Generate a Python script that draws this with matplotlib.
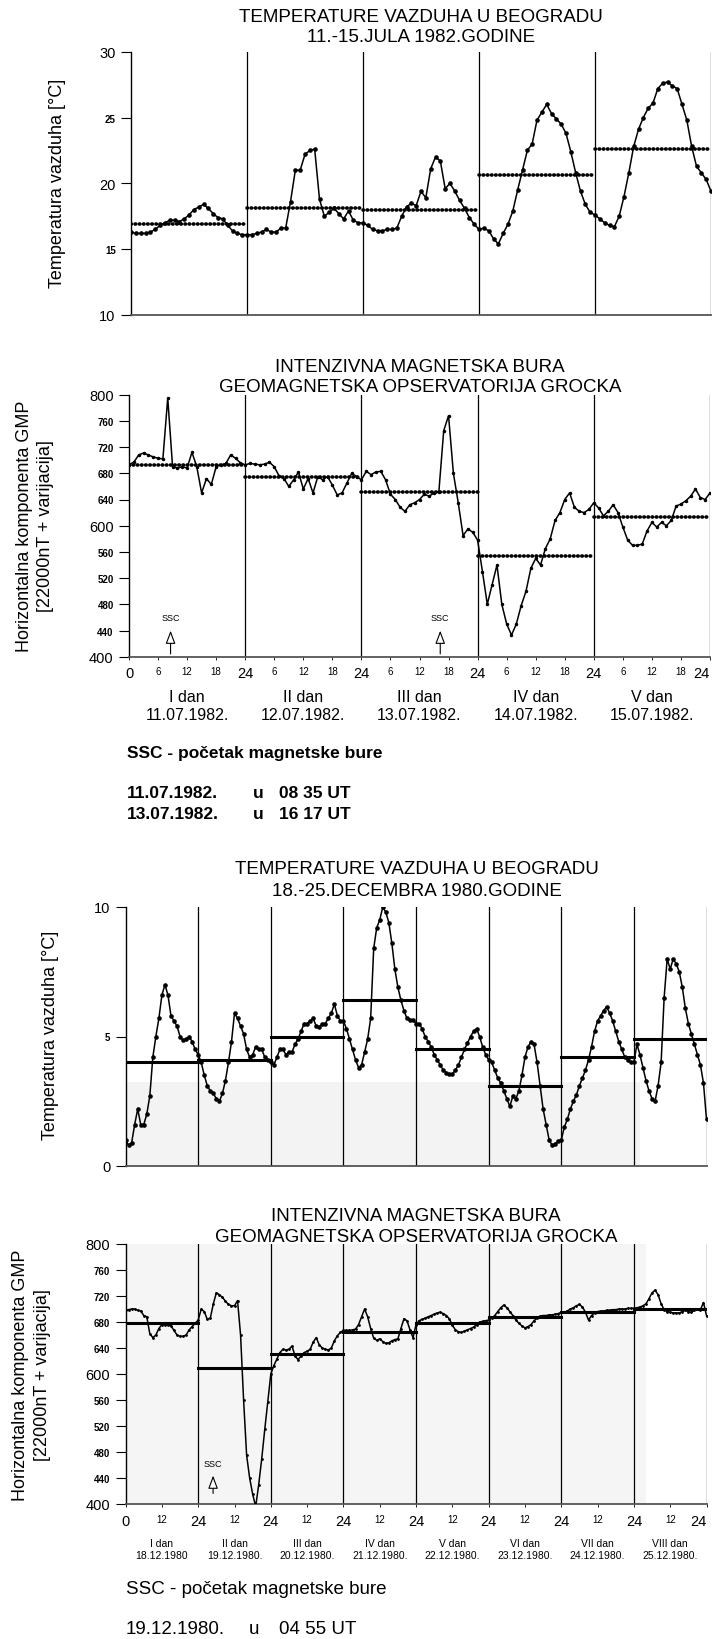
import numpy as np
import matplotlib
matplotlib.use("Agg")
import matplotlib.pyplot as plt

plt.rcParams['font.family'] = ['Liberation Sans', 'DejaVu Sans']

# ---------------- 11.-15. jul 1982 (hourly, hour 0 .. 120)
jul_temp = [
    16.3, 16.2, 16.2, 16.2, 16.3, 16.5, 16.8, 17.0, 17.2, 17.2, 17.1, 17.3,
    17.6, 18.0, 18.2, 18.4, 18.1, 17.7, 17.4, 17.3, 16.8, 16.4, 16.2, 16.1,
    16.1, 16.1, 16.2, 16.3, 16.5, 16.3, 16.3, 16.6, 16.6, 18.6, 21.0, 21.0,
    22.2, 22.5, 22.6, 18.8, 17.5, 17.8, 18.1, 17.7, 17.3, 17.9, 17.2, 17.0,
    17.0, 16.8, 16.5, 16.4, 16.4, 16.5, 16.5, 16.6, 17.5, 18.2, 18.5, 18.3,
    19.4, 18.9, 21.1, 22.0, 21.7, 19.6, 20.0, 19.4, 18.7, 18.1, 17.4, 16.9,
    16.5, 16.6, 16.4, 15.8, 15.4, 16.2, 16.9, 17.9, 19.5, 21.0, 22.5, 23.0,
    24.8, 25.4, 26.0, 25.3, 24.9, 24.5, 23.8, 22.4, 20.8, 19.4, 18.4, 17.8,
    17.6, 17.3, 17.0, 16.8, 16.7, 17.5, 19.0, 20.8, 22.8, 24.1, 25.0, 25.7,
    26.1, 27.2, 27.6, 27.7, 27.4, 27.2, 26.0, 24.8, 22.8, 21.3, 20.8, 20.3,
    19.4]
jul_temp_mean = [16.9, 18.1, 18.0, 20.6, 22.6]

jul_gmp = [
    693, 697, 708, 711, 708, 705, 703, 702, 795, 690, 688, 690,
    688, 712, 690, 650, 672, 663, 690, 693, 695, 708, 703, 696,
    693, 695, 694, 693, 694, 697, 690, 676, 672, 660, 670, 682,
    656, 672, 650, 675, 670, 675, 662, 647, 650, 665, 680, 675,
    670, 683, 678, 682, 683, 670, 648, 640, 628, 622, 632, 635,
    640, 648, 645, 650, 652, 745, 768, 680, 635, 585, 595, 590,
    578, 530, 480, 510, 540, 480, 450, 433, 450, 478, 500, 535,
    550, 540, 565, 580, 608, 620, 640, 650, 628, 622, 620, 625,
    635, 627, 615, 622, 632, 620, 598, 578, 570, 570, 572, 592,
    605, 598, 605, 600, 608, 630, 633, 638, 645, 656, 643, 640,
    650]
jul_gmp_mean = [693, 675, 651, 553, 614]
jul_days = ['I dan', 'II dan', 'III dan', 'IV dan', 'V dan']
jul_dates = ['11.07.1982.', '12.07.1982.', '13.07.1982.', '14.07.1982.', '15.07.1982.']
jul_ssc_dates = ['11.07.1982.', '13.07.1982.']
jul_ssc_times = ['08 35 UT', '16 17 UT']
jul_ssc_hours = [8 + 35 / 60, 48 + 16 + 17 / 60]

# ---------------- 18.-25. decembar 1980 (hourly, hour 0 .. 192)
dec_temp = [
    1.0, 0.8, 0.9, 1.6, 2.2, 1.6, 1.6, 2.0, 2.7, 4.2, 5.0, 5.7,
    6.6, 7.0, 6.6, 5.8, 5.6, 5.4, 5.0, 4.85, 4.9, 5.0, 4.8, 4.5,
    4.3, 4.0, 3.5, 3.1, 2.9, 2.8, 2.6, 2.5, 2.8, 3.3, 4.0, 4.8,
    5.9, 5.7, 5.4, 5.1, 4.5, 4.2, 4.3, 4.6, 4.5, 4.5, 4.2, 4.1,
    4.0, 3.9, 4.2, 4.5, 4.5, 4.3, 4.4, 4.4, 4.7, 4.9, 5.2, 5.5,
    5.5, 5.6, 5.7, 5.4, 5.35, 5.5, 5.5, 5.7, 5.9, 6.25, 5.8, 5.6,
    5.6, 5.3, 4.9, 4.5, 4.1, 3.8, 3.9, 4.4, 4.9, 5.7, 8.4, 9.2,
    9.5, 10.0, 9.8, 9.4, 8.6, 7.6, 6.9, 6.4, 6.0, 5.7, 5.65, 5.65,
    5.5, 5.5, 5.3, 5.0, 4.8, 4.6, 4.3, 4.1, 3.9, 3.7, 3.6, 3.55,
    3.55, 3.7, 3.9, 4.2, 4.5, 4.75, 5.0, 5.2, 5.3, 5.0, 4.6, 4.3,
    4.1, 4.0, 3.7, 3.4, 3.2, 2.9, 2.6, 2.3, 2.7, 2.6, 2.9, 3.5,
    4.2, 4.6, 4.8, 4.7, 4.0, 3.1, 2.2, 1.6, 1.0, 0.8, 0.85, 0.95,
    1.0, 1.5, 1.8, 2.2, 2.5, 2.75, 3.1, 3.4, 3.7, 4.1, 4.6, 5.2,
    5.6, 5.8, 6.0, 6.15, 5.9, 5.6, 5.2, 4.8, 4.5, 4.2, 4.1, 4.0,
    4.0, 4.7, 4.3, 3.8, 3.3, 2.9, 2.6, 2.5, 3.1, 4.0, 6.5, 8.0,
    7.6, 8.0, 7.8, 7.5, 6.9, 6.1, 5.5, 5.1, 4.7, 4.3, 3.9, 3.2,
    1.8]
dec_temp_mean = [4.0, 4.1, 5.0, 6.4, 4.5, 3.1, 4.2, 4.9]

dec_gmp = [
    698, 699, 700, 700, 698, 697, 690, 688, 662, 656, 660, 670,
    676, 676, 676, 674, 667, 660, 658, 658, 660, 668, 673, 678,
    683, 700, 696, 684, 686, 708, 725, 722, 718, 712, 707, 705,
    705, 713, 660, 560, 475, 440, 415, 396, 430, 470, 515, 557,
    600, 613, 623, 633, 638, 637, 638, 643, 628, 622, 628, 633,
    635, 638, 649, 656, 645, 640, 638, 637, 640, 651, 659, 664,
    667, 667, 667, 668, 669, 676, 688, 700, 688, 670, 655, 652,
    654, 650, 647, 648, 651, 653, 654, 670, 685, 682, 668, 656,
    676, 682, 684, 686, 688, 690, 692, 694, 695, 693, 690, 685,
    675, 668, 665, 664, 666, 668, 670, 672, 676, 680, 681, 682,
    683, 686, 690, 696, 702, 706, 702, 696, 690, 683, 678, 674,
    671, 673, 676, 682, 686, 689, 690, 690, 691, 691, 692, 693,
    695, 695, 697, 700, 702, 705, 707, 703, 695, 683, 690, 694,
    696, 697, 697, 698, 698, 699, 699, 700, 700, 700, 701, 701,
    701, 702, 703, 705, 708, 716, 725, 729, 722, 708, 699, 696,
    695, 694, 694, 694, 696, 698, 696, 695, 698, 700, 699, 710,
    690]
dec_gmp_mean = [678, 610, 631, 664, 679, 687, 696, 700]
dec_days = ['I dan', 'II dan', 'III dan', 'IV dan', 'V dan', 'VI dan', 'VII dan', 'VIII dan']
dec_dates = ['18.12.1980', '19.12.1980.', '20.12.1980.', '21.12.1980.',
             '22.12.1980.', '23.12.1980.', '24.12.1980.', '25.12.1980.']
dec_ssc_dates = ['19.12.1980.']
dec_ssc_times = ['04 55 UT']
dec_ssc_hours = [24 + 4 + 55 / 60]

W, H = 713, 1640
fig = plt.figure(figsize=(W / 100, H / 100), dpi=100)


def px_axes(left, top, right, bottom):
    return fig.add_axes([left / W, 1 - bottom / H, (right - left) / W, (bottom - top) / H])


def ftext(x, y, s, **kw):
    kw.setdefault('ha', 'center')
    kw.setdefault('va', 'center')
    return fig.text(x / W, 1 - y / H, s, **kw)


def draw_panel(ax, values, means, ylim, yticks, big, dotted_mean, marker, ms):
    n_days = len(means)
    hours = np.arange(len(values))
    ax.plot(hours, values, color='black', lw=1.1, marker=marker, ms=ms, zorder=4)
    for d, m in enumerate(means):
        if dotted_mean:
            ax.plot([24 * d, 24 * (d + 1)], [m, m], color='black', lw=2.6,
                    ls=(0, (0.15, 1.0)), dash_capstyle='round', zorder=3)
        else:
            ax.plot([24 * d, 24 * (d + 1)], [m, m], color='black', lw=2.2, zorder=3)
    for d in range(1, n_days + 1):
        ax.axvline(24 * d, color='black', lw=0.9, zorder=2)
    ax.set_xlim(0, 24 * n_days)
    ax.set_ylim(*ylim)
    ax.spines['top'].set_visible(False)
    ax.spines['right'].set_visible(False)
    ax.spines['left'].set_linewidth(1.0)
    ax.spines['bottom'].set_color('#555555')
    ax.spines['bottom'].set_linewidth(1.3)
    ax.set_yticks(yticks)
    ax.set_yticklabels([str(t) for t in yticks])
    for lbl, t in zip(ax.get_yticklabels(), yticks):
        if t in big:
            lbl.set_fontsize(10.5)
        else:
            lbl.set_fontsize(7)
            lbl.set_fontweight('bold')
    ax.tick_params(axis='y', length=7, width=0.8, pad=4)


def hour_ticks(ax, n_days, step):
    ticks = list(range(0, 24 * n_days + 1, step))
    labels = []
    for t in ticks:
        labels.append('24' if (t > 0 and t % 24 == 0) else str(t % 24))
    ax.set_xticks(ticks)
    ax.set_xticklabels(labels)
    tl = ax.get_xticklabels()
    for lbl, t in zip(tl, ticks):
        lbl.set_fontsize(10.5 if t % 24 == 0 else 7)
    tl[-1].set_horizontalalignment('right')   # keep last "24" inside the picture
    ax.tick_params(axis='x', length=2, width=0.6, pad=5)


def ssc_arrow(ax, x, y0, y1, ytxt):
    ax.annotate('', xy=(x, y1), xytext=(x, y0),
                arrowprops=dict(arrowstyle='-|>,head_width=0.3,head_length=0.8',
                                fc='white', ec='black', lw=0.8), zorder=5)
    ax.text(x, ytxt, 'SSC', fontsize=6.5, ha='center', va='center')


# ---- panel 1: temperature, jul 1982
ax1 = px_axes(131, 52.7, 711, 316)
draw_panel(ax1, jul_temp, jul_temp_mean, (10, 30), [10, 15, 20, 25, 30], [10, 20, 30],
           True, 'o', 2.3)
ax1.set_xticks([])
ftext(421, 18, 'TEMPERATURE VAZDUHA U BEOGRADU', fontsize=13.5)
ftext(421, 37, '11.-15.JULA 1982.GODINE', fontsize=13.5)
ftext(57, 183, 'Temperatura vazduha [°C]', fontsize=13, rotation=90)

# ---- panel 2: geomagnetic field, jul 1982
ax2 = px_axes(129, 395.7, 710, 657.7)
draw_panel(ax2, jul_gmp, jul_gmp_mean, (400, 800), list(range(400, 801, 40)), [400, 600, 800],
           True, '.', 3)
hour_ticks(ax2, 5, 6)
for d in range(5):
    ax2.text(24 * d + 12, -0.186, jul_days[d] + '\n' + jul_dates[d], fontsize=11.5,
             ha='center', va='center', linespacing=1.25, transform=ax2.get_xaxis_transform())
for h in jul_ssc_hours:
    ssc_arrow(ax2, h, 400, 444, 460)
ftext(420, 368, 'INTENZIVNA MAGNETSKA BURA', fontsize=13.5)
ftext(420, 388, 'GEOMAGNETSKA OPSERVATORIJA GROCKA', fontsize=13.5)
ftext(25, 526, 'Horizontalna komponenta GMP', fontsize=13, rotation=90)
ftext(46, 526, '[22000nT + varijacija]', fontsize=13, rotation=90)

ftext(127, 754, 'SSC - početak magnetske bure', fontsize=12.5, fontweight='heavy', ha='left')
for i in range(len(jul_ssc_dates)):
    y = 794 + 21 * i
    ftext(127, y, jul_ssc_dates[i], fontsize=12.5, fontweight='heavy', ha='left')
    ftext(253, y, 'u', fontsize=12.5, fontweight='heavy', ha='left')
    ftext(279, y, jul_ssc_times[i], fontsize=12.5, fontweight='heavy', ha='left')

# ---- panel 3: temperature, dec 1980
ax3 = px_axes(125.6, 908, 706.5, 1167)
ax3.fill_between([0, 170], 0, 3.25, color='#f3f3f3', lw=0, zorder=0)
draw_panel(ax3, dec_temp, dec_temp_mean, (0, 10), [0, 5, 10], [0, 10],
           False, 'o', 2.3)
ax3.set_xticks([])
ftext(417, 870, 'TEMPERATURE VAZDUHA U BEOGRADU', fontsize=13.5)
ftext(417, 892, '18.-25.DECEMBRA 1980.GODINE', fontsize=13.5)
ftext(51, 1035, 'Temperatura vazduha [°C]', fontsize=13, rotation=90)

# ---- panel 4: geomagnetic field, dec 1980
ax4 = px_axes(125.6, 1245, 706.5, 1505)
ax4.fill_between([0, 172], 400, 800, color='#f5f5f5', lw=0, zorder=0)
draw_panel(ax4, dec_gmp, dec_gmp_mean, (400, 800), list(range(400, 801, 40)), [400, 600, 800],
           False, '.', 2)
hour_ticks(ax4, 8, 12)
for d in range(8):
    ax4.text(24 * d + 12, -0.173, dec_days[d] + '\n' + dec_dates[d], fontsize=7.5,
             ha='center', va='center', linespacing=1.35, transform=ax4.get_xaxis_transform())
for h in dec_ssc_hours:
    ssc_arrow(ax4, h, 412, 448, 462)
ftext(416, 1217, 'INTENZIVNA MAGNETSKA BURA', fontsize=13.5)
ftext(416, 1238, 'GEOMAGNETSKA OPSERVATORIJA GROCKA', fontsize=13.5)
ftext(20.5, 1375, 'Horizontalna komponenta GMP', fontsize=13, rotation=90)
ftext(43, 1375, '[22000nT + varijacija]', fontsize=13, rotation=90)

ftext(125.6, 1590, 'SSC - početak magnetske bure', fontsize=13.5, ha='left')
for i in range(len(dec_ssc_dates)):
    y = 1630 + 21 * i
    ftext(125.6, y, dec_ssc_dates[i], fontsize=13.5, ha='left')
    ftext(249, y, 'u', fontsize=13.5, ha='left')
    ftext(279, y, dec_ssc_times[i], fontsize=13.5, ha='left')

fig.savefig('out.png', dpi=100)
